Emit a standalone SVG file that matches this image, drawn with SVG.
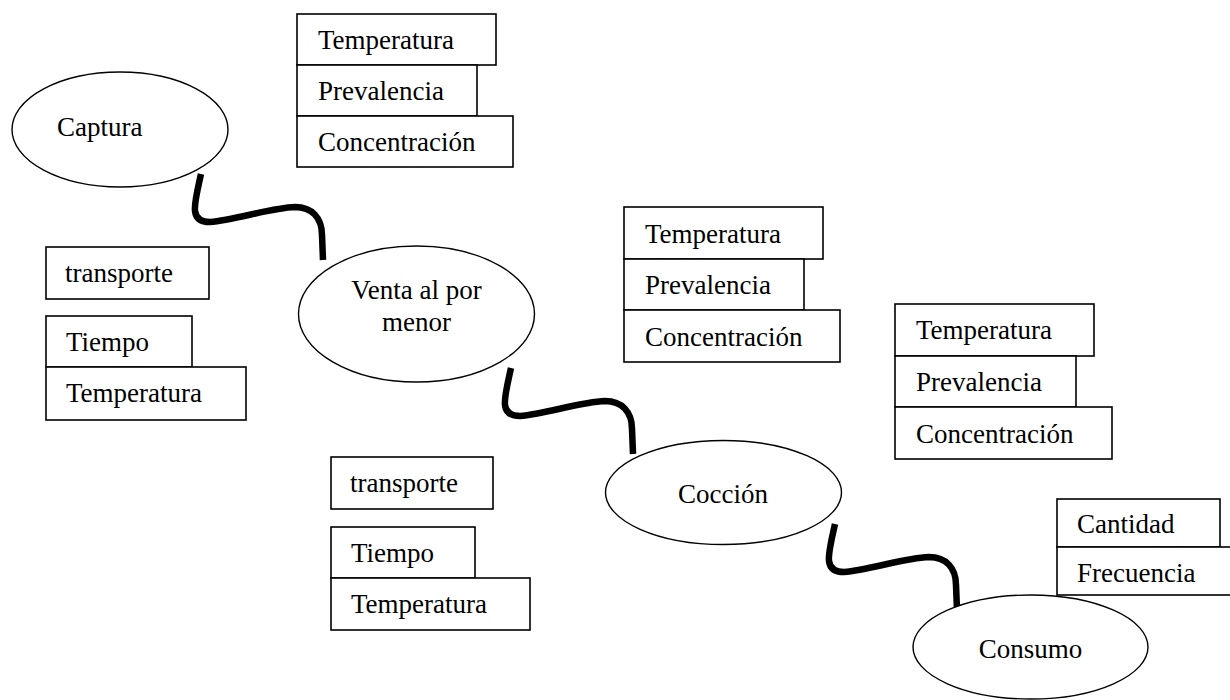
<svg xmlns="http://www.w3.org/2000/svg" xmlns:xlink="http://www.w3.org/1999/xlink" width="1230" height="700" viewBox="0 0 1230 700">
  <style>
    .box { fill: #ffffff; stroke: #000000; stroke-width: 1.6; }
    .stage { fill: #ffffff; stroke: #000000; stroke-width: 1.4; }
    .lbl { font-family: "Liberation Serif", "Times New Roman", serif; font-size: 27px; fill: #000000; }
    .mid { text-anchor: middle; }
    .wave { fill: none; stroke: #000000; stroke-width: 6.5; stroke-linecap: butt; stroke-linejoin: round; }
  </style>
  <defs>
    <!-- one S-shaped link, reused between each pair of stages -->
    <path id="wave-link" class="wave" d="M 201 174 C 198 188, 194 203, 195 211 C 196 219, 202 222, 210 222 C 235 220, 270 208, 295 207 C 312 207, 322 218, 322 235 L 323 260"/>
  </defs>
  <rect x="0" y="0" width="1230" height="700" fill="#ffffff"/>

  <!-- links between stages -->
  <g id="connectors">
    <use xlink:href="#wave-link" href="#wave-link"/>
    <use xlink:href="#wave-link" href="#wave-link" transform="translate(310,194)"/>
    <use xlink:href="#wave-link" href="#wave-link" transform="translate(634,350)"/>
  </g>

  <!-- stages -->
  <g id="captura">
    <ellipse class="stage" cx="120" cy="129.5" rx="108" ry="57.5"/>
    <text class="lbl" x="57" y="136">Captura</text>
  </g>
  <g id="venta">
    <ellipse class="stage" cx="416.5" cy="314" rx="118" ry="68"/>
    <text class="lbl mid" x="416.5" y="299">Venta al por</text>
    <text class="lbl mid" x="416.5" y="331">menor</text>
  </g>
  <g id="coccion">
    <ellipse class="stage" cx="723.5" cy="492.5" rx="118" ry="52"/>
    <text class="lbl mid" x="723" y="503">Cocción</text>
  </g>
  <g id="consumo">
    <ellipse class="stage" cx="1030.5" cy="647" rx="117.5" ry="52"/>
    <text class="lbl mid" x="1030.5" y="658">Consumo</text>
  </g>

  <!-- parameter stacks -->
  <g id="params-captura">
    <rect class="box" x="297" y="14" width="199" height="51"/>
    <text class="lbl" x="318" y="49">Temperatura</text>
    <rect class="box" x="297" y="65" width="180" height="51"/>
    <text class="lbl" x="318" y="100">Prevalencia</text>
    <rect class="box" x="297" y="116" width="216" height="51"/>
    <text class="lbl" x="318" y="151">Concentración</text>
  </g>

  <g id="transport-1">
    <rect class="box" x="46" y="247" width="163" height="52"/>
    <text class="lbl" x="65" y="282">transporte</text>
    <rect class="box" x="46" y="316" width="146" height="51"/>
    <text class="lbl" x="66" y="351">Tiempo</text>
    <rect class="box" x="46" y="367" width="200" height="53"/>
    <text class="lbl" x="66" y="402">Temperatura</text>
  </g>

  <g id="params-venta">
    <rect class="box" x="624" y="207" width="199" height="52"/>
    <text class="lbl" x="645" y="243">Temperatura</text>
    <rect class="box" x="624" y="259" width="180" height="51"/>
    <text class="lbl" x="645" y="294">Prevalencia</text>
    <rect class="box" x="624" y="310" width="216" height="52"/>
    <text class="lbl" x="645" y="346">Concentración</text>
  </g>

  <g id="transport-2">
    <rect class="box" x="331" y="457" width="162" height="52"/>
    <text class="lbl" x="350" y="492">transporte</text>
    <rect class="box" x="331" y="527" width="144" height="51"/>
    <text class="lbl" x="351" y="562">Tiempo</text>
    <rect class="box" x="331" y="578" width="199" height="52"/>
    <text class="lbl" x="351" y="613">Temperatura</text>
  </g>

  <g id="params-coccion">
    <rect class="box" x="895" y="304" width="199" height="52"/>
    <text class="lbl" x="916" y="339">Temperatura</text>
    <rect class="box" x="895" y="356" width="181" height="51"/>
    <text class="lbl" x="916" y="391">Prevalencia</text>
    <rect class="box" x="895" y="407" width="217" height="52"/>
    <text class="lbl" x="916" y="443">Concentración</text>
  </g>

  <g id="params-consumo">
    <rect class="box" x="1057" y="499" width="163" height="48"/>
    <text class="lbl" x="1077" y="533">Cantidad</text>
    <rect class="box" x="1057" y="547" width="190" height="48"/>
    <text class="lbl" x="1077" y="582">Frecuencia</text>
  </g>
</svg>
